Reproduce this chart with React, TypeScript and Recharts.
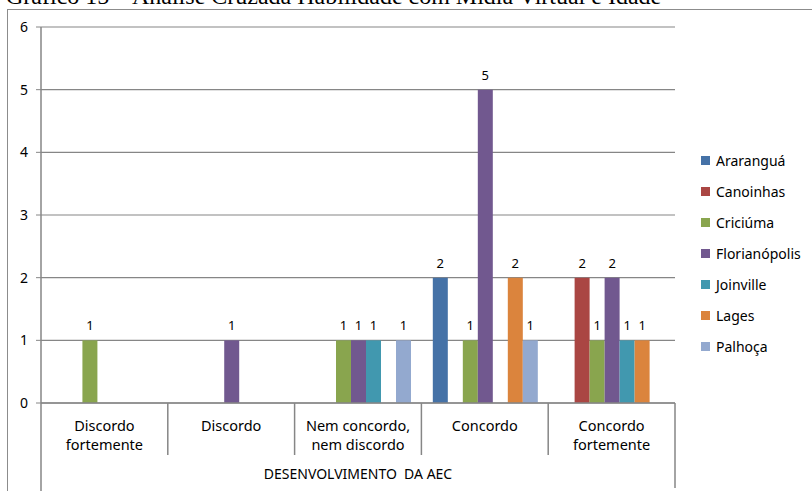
import { BarChart, Bar, XAxis, YAxis, CartesianGrid, LabelList } from "recharts";

const CATEGORIES = [
  "Discordo fortemente",
  "Discordo",
  "Nem concordo, nem discordo",
  "Concordo",
  "Concordo fortemente",
];

// tick labels split over two lines, as on the category axis
const CATEGORY_LINES: string[][] = [
  ["Discordo", "fortemente"],
  ["Discordo"],
  ["Nem concordo,", "nem discordo"],
  ["Concordo"],
  ["Concordo", "fortemente"],
];

const GROUP_LABEL = "DESENVOLVIMENTO  DA AEC";
const TITLE = "Gráfico 15 – Análise Cruzada Habilidade com Mídia Virtual e Idade";

const ARARANGUA = [0, 0, 0, 2, 0];
const CANOINHAS = [0, 0, 0, 0, 2];
const CRICIUMA = [1, 0, 1, 1, 1];
const FLORIANOPOLIS = [0, 1, 1, 5, 2];
const JOINVILLE = [0, 0, 1, 0, 1];
const LAGES = [0, 0, 0, 2, 1];
const PALHOCA = [0, 0, 1, 1, 0];

const Y_TICKS = [0, 1, 2, 3, 4, 5, 6];

const SERIES = [
  { key: "Araranguá", values: ARARANGUA, color: "#4572A7" },
  { key: "Canoinhas", values: CANOINHAS, color: "#AA4643" },
  { key: "Criciúma", values: CRICIUMA, color: "#89A54E" },
  { key: "Florianópolis", values: FLORIANOPOLIS, color: "#71588F" },
  { key: "Joinville", values: JOINVILLE, color: "#4198AF" },
  { key: "Lages", values: LAGES, color: "#DB843D" },
  { key: "Palhoça", values: PALHOCA, color: "#93A9CF" },
];

const data = CATEGORIES.map((name, i) => {
  const row: Record<string, string | number> = { name };
  SERIES.forEach((s) => (row[s.key] = s.values[i]));
  return row;
});

const W = 812;
const H = 491;
const PLOT_LEFT = 41;
const PLOT_RIGHT = 675;
const PLOT_TOP = 27;
const PLOT_BOTTOM = 403;
const BAND = (PLOT_RIGHT - PLOT_LEFT) / CATEGORIES.length;
const FONT = "'Noto Sans', sans-serif";
const AXIS_GRAY = "#868686";

function CategoryTick(props: any) {
  const { x, y, index } = props;
  const lines = CATEGORY_LINES[index] ?? [];
  const left = x - BAND / 2;
  const right = x + BAND / 2;
  const last = index === CATEGORIES.length - 1;
  return (
    <g>
      <line
        x1={left}
        x2={left}
        y1={PLOT_BOTTOM}
        y2={index === 0 ? H : 455}
        stroke={AXIS_GRAY}
        strokeWidth={1.5}
      />
      {last && (
        <line x1={right} x2={right} y1={PLOT_BOTTOM} y2={488} stroke={AXIS_GRAY} strokeWidth={1.5} />
      )}
      {lines.map((t, i) => (
        <text
          key={i}
          x={x}
          y={y + 20 + i * 19}
          textAnchor="middle"
          fontSize={14.5}
          fontFamily={FONT}
          fill="#000"
        >
          {t}
        </text>
      ))}
      {index === 2 && (
        <text
          x={x}
          y={479}
          textAnchor="middle"
          fontSize={14}
          fontFamily={FONT}
          fill="#000"
          style={{ whiteSpace: "pre" }}
        >
          {GROUP_LABEL}
        </text>
      )}
    </g>
  );
}

function LegendBox() {
  return (
    <div style={{ position: "absolute", left: 701, top: 145, fontFamily: FONT, fontSize: 14 }}>
      {SERIES.map((s) => (
        <div key={s.key} style={{ display: "flex", alignItems: "center", height: 31 }}>
          <span
            style={{ width: 9, height: 9, background: s.color, marginRight: 6, display: "inline-block" }}
          />
          <span>{s.key}</span>
        </div>
      ))}
    </div>
  );
}

export default function App() {
  return (
    <div
      style={{
        position: "absolute",
        left: 0,
        top: 0,
        width: W,
        height: H,
        overflow: "hidden",
        background: "#fff",
      }}
    >
      <div
        style={{
          position: "absolute",
          left: 6,
          top: -16,
          fontFamily: "'Liberation Serif', serif",
          fontSize: 24,
          lineHeight: "24px",
          whiteSpace: "nowrap",
        }}
      >
        {TITLE}
      </div>
      <div
        style={{
          position: "absolute",
          left: 7,
          top: 9,
          width: W,
          height: H,
          border: "1px solid #8c8c8c",
        }}
      />
      <div style={{ position: "absolute", left: 0, top: 0 }}>
        <BarChart
          width={W}
          height={H}
          data={data}
          margin={{ top: PLOT_TOP, right: W - PLOT_RIGHT, left: 8, bottom: 0 }}
          barCategoryGap="9%"
          barGap={0}
        >
          <CartesianGrid vertical={false} stroke={AXIS_GRAY} strokeWidth={1.2} />
          <XAxis
            dataKey="name"
            height={H - PLOT_BOTTOM}
            tick={<CategoryTick />}
            tickLine={false}
            axisLine={{ stroke: AXIS_GRAY, strokeWidth: 1.5 }}
            interval={0}
          />
          <YAxis
            width={PLOT_LEFT - 8}
            domain={[0, 6]}
            ticks={Y_TICKS}
            tickSize={5}
            tickMargin={8}
            tickLine={{ stroke: AXIS_GRAY }}
            axisLine={{ stroke: AXIS_GRAY, strokeWidth: 1.5 }}
            tick={{ fontSize: 14, fontFamily: FONT, fill: "#000" }}
          />
          {SERIES.map((s) => (
            <Bar key={s.key} dataKey={s.key} fill={s.color} isAnimationActive={false}>
              <LabelList
                dataKey={s.key}
                position="top"
                offset={10}
                fontSize={13}
                fontFamily={FONT}
                fill="#000"
                formatter={(v: any) => (v ? String(v) : "")}
              />
            </Bar>
          ))}
        </BarChart>
      </div>
      <LegendBox />
    </div>
  );
}
